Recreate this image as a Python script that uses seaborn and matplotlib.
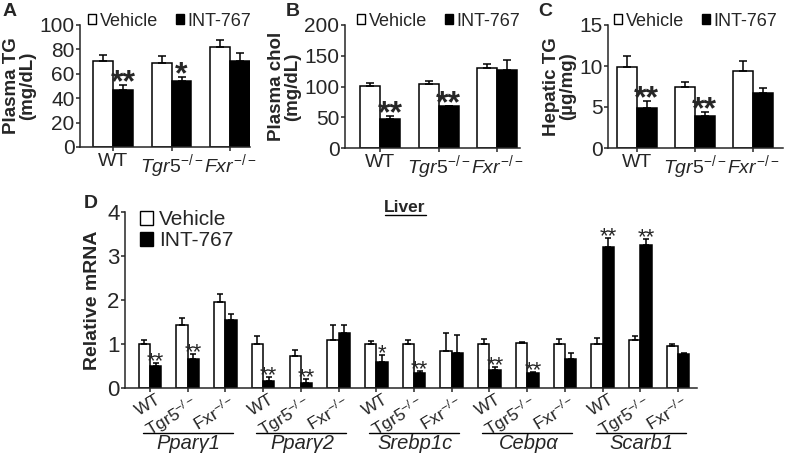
import numpy as np
import pandas as pd
import matplotlib
matplotlib.use('Agg')
import matplotlib.pyplot as plt
import matplotlib.patches as mpatches
from matplotlib.lines import Line2D
from matplotlib.transforms import blended_transform_factory
import seaborn as sns

# ---- values (mean, SEM) ----
genotypes = ['WT', 'Tgr5', 'Fxr']
treatments = ['Vehicle', 'INT-767']

# A: plasma TG (mg/dL)
tg_veh = [70.7, 68.5, 82.0]
tg_veh_sem = [4.6, 6.0, 6.0]
tg_int = [46.6, 54.0, 70.7]
tg_int_sem = [4.1, 3.0, 6.3]
tg_stars = ['**', '*', '']

# B: plasma cholesterol (mg/dL)
chol_veh = [101.6, 103.8, 129.7]
chol_veh_sem = [4.4, 5.2, 7.1]
chol_int = [47.0, 67.6, 127.0]
chol_int_sem = [5.4, 1.0, 16.0]
chol_stars = ['**', '**', '']

# C: hepatic TG (ug/mg)
htg_veh = [9.9, 7.5, 9.36]
htg_veh_sem = [1.3, 0.5, 1.25]
htg_int = [4.9, 3.9, 6.65]
htg_int_sem = [0.8, 0.5, 0.65]
htg_stars = ['**', '**', '']

# D: liver relative mRNA, 5 genes x 3 genotypes
genes = ['Pparγ1', 'Pparγ2', 'Srebp1c', 'Cebpα', 'Scarb1']
mrna_veh = [1.00, 1.44, 1.95, 1.00, 0.73, 1.10, 1.00, 1.00, 0.84,
            1.00, 1.02, 1.00, 1.00, 1.10, 0.95]
mrna_veh_sem = [0.10, 0.14, 0.19, 0.18, 0.14, 0.34, 0.07, 0.10, 0.41,
                0.11, 0.02, 0.11, 0.14, 0.08, 0.05]
mrna_int = [0.49, 0.67, 1.54, 0.15, 0.12, 1.26, 0.59, 0.33, 0.80,
            0.42, 0.34, 0.67, 3.20, 3.24, 0.77]
mrna_int_sem = [0.08, 0.11, 0.15, 0.09, 0.08, 0.18, 0.17, 0.05, 0.40,
                0.06, 0.02, 0.13, 0.21, 0.15, 0.03]
mrna_stars = ['**', '**', '', '**', '**', '', '*', '**', '',
              '**', '**', '', '**', '**', '']

sns.set_style('ticks')
plt.rcParams['font.family'] = ['Liberation Sans', 'DejaVu Sans']
plt.rcParams['mathtext.fontset'] = 'custom'
plt.rcParams['mathtext.rm'] = 'Liberation Sans'
plt.rcParams['mathtext.it'] = 'Liberation Sans:italic'
plt.rcParams['mathtext.bf'] = 'Liberation Sans:bold'
plt.rcParams['axes.linewidth'] = 1.1

palette = {'Vehicle': 'white', 'INT-767': 'black'}


def draw_bars(ax, keys, veh, veh_sem, intv, int_sem, stars, width, capsize,
              star_size, star_weight, star_dy):
    n = len(keys)
    df = pd.DataFrame({
        'group': keys * 2,
        'treatment': ['Vehicle'] * n + ['INT-767'] * n,
        'value': veh + intv,
        'sem': veh_sem + int_sem,
    })
    sns.barplot(data=df, x='group', y='value', hue='treatment', order=keys,
                hue_order=treatments, palette=palette, edgecolor='black',
                linewidth=1.1, width=width, errorbar=None, legend=False,
                saturation=1, ax=ax)
    for cont, t in zip(ax.containers, treatments):
        sub = df[df.treatment == t]
        xs = [p.get_x() + p.get_width() / 2 for p in cont]
        hs = [p.get_height() for p in cont]
        sem = sub['sem'].to_numpy()
        ax.errorbar(xs, hs, yerr=[np.zeros_like(sem), sem], fmt='none',
                    ecolor='black', elinewidth=1.1, capsize=capsize,
                    capthick=1.1, zorder=3)
        if t == 'INT-767':
            for x, h, s, st in zip(xs, hs, sem, stars):
                if st:
                    ax.annotate(st, (x, h + s), xytext=(0, star_dy),
                                textcoords='offset points', ha='center',
                                va='baseline', fontsize=star_size,
                                fontweight=star_weight)
    ax.set_xlabel('')
    sns.despine(ax=ax)
    ax.tick_params(direction='out', length=3, width=1.1, pad=1)


def legend_handles():
    return [mpatches.Patch(facecolor='white', edgecolor='black', lw=1.0, label='Vehicle'),
            mpatches.Patch(facecolor='black', edgecolor='black', lw=1.0, label='INT-767')]


fig = plt.figure(figsize=(7.87, 4.54), dpi=100)
W, H = 787, 454

def px_axes(l, t, r, b):
    return fig.add_axes([l / W, 1 - b / H, (r - l) / W, (b - t) / H])

axA = px_axes(80, 25, 250, 147)
axB = px_axes(345, 25, 520, 148)
axC = px_axes(608, 25, 783, 148)
axD = px_axes(125, 212, 697, 388)

geno_labels = ['WT', r'$\it{Tgr5}^{-/-}$', r'$\it{Fxr}^{-/-}$']

panels = [
    (axA, tg_veh, tg_veh_sem, tg_int, tg_int_sem, tg_stars, (0, 100), np.arange(0, 101, 20),
     'Plasma TG\n(mg/dL)', (-0.564, 2.34), 88),
    (axB, chol_veh, chol_veh_sem, chol_int, chol_int_sem, chol_stars, (0, 200), np.arange(0, 201, 50),
     'Plasma chol\n(mg/dL)', (-0.6, 2.39), 357),
    (axC, htg_veh, htg_veh_sem, htg_int, htg_int_sem, htg_stars, (0, 15), np.arange(0, 16, 5),
     'Hepatic TG\n(µg/mg)', (-0.5, 2.52), 614),
]
for ax, v, vs, iv, ivs, st, ylim, yt, ylab, xlim, legx in panels:
    draw_bars(ax, genotypes, v, vs, iv, ivs, st, width=0.68, capsize=3,
              star_size=23, star_weight='bold', star_dy=-4.5)
    ax.set_ylim(*ylim)
    ax.set_yticks(yt)
    ax.set_xlim(*xlim)
    ax.set_xticks(range(3))
    ax.set_xticklabels(geno_labels, fontsize=14)
    ax.tick_params(axis='y', labelsize=15)
    ax.set_ylabel(ylab, fontsize=13.5, fontweight='bold', linespacing=0.95, labelpad=2)
    fig.legend(handles=legend_handles(), loc='center left',
               bbox_to_anchor=(legx / W, 1 - 21 / H), ncol=2, frameon=False,
               fontsize=13, handlelength=0.45, handleheight=0.45,
               handletextpad=0.2, columnspacing=1.0, borderpad=0,
               borderaxespad=0)

# panel D
keys = [f'{g} {k}' for g in genes for k in genotypes]
draw_bars(axD, keys, mrna_veh, mrna_veh_sem, mrna_int, mrna_int_sem, mrna_stars,
          width=0.6, capsize=2.5, star_size=16, star_weight='normal', star_dy=-3)
axD.set_ylim(0, 4)
axD.set_yticks(range(5))
axD.set_xlim(-0.66, 14.5)
axD.set_xticks(range(len(keys)))
axD.set_xticklabels([''] * len(keys))
axD.tick_params(axis='y', labelsize=16)
axD.set_ylabel('Relative mRNA', fontsize=14, fontweight='bold', labelpad=4)
axD.legend(handles=legend_handles(), loc='upper left', bbox_to_anchor=(0.027, 1.01),
           frameon=False, fontsize=15, handlelength=0.6, handleheight=0.6,
           handletextpad=0.3, labelspacing=0.1, borderpad=0, borderaxespad=0)

# rotated genotype labels, right end a little past each tick
d_labels = ['WT', r'Tgr5$^{-/-}$', r'Fxr$^{-/-}$'] * len(genes)
for i, lab in enumerate(d_labels):
    axD.annotate(lab, (i, 0), xycoords=('data', 'axes fraction'),
                 xytext=(10, -3), textcoords='offset points', ha='right',
                 va='top', rotation=31, fontsize=12.5)

# gene group underlines and names
trans = blended_transform_factory(axD.transData, axD.transAxes)
for i, g in enumerate(genes):
    x0 = i * 3
    axD.add_line(Line2D([x0 - 0.19, x0 + 2.2], [-0.256, -0.256], transform=trans,
                        color='black', lw=1.0, clip_on=False))
    axD.text(x0 + 1.03, -0.262, g, transform=trans, ha='center', va='top',
             fontsize=14.5, fontstyle='italic')

# title "Liver"
fig.text(405 / W, 1 - 207 / H, 'Liver', ha='center', va='center',
         fontsize=12.5, fontweight='bold')
fig.add_artist(Line2D([385 / W, 426 / W], [1 - 215 / H] * 2, color='black', lw=1.0))

# panel letters
for letter, x, y in [('A', 3, 11), ('B', 286, 11), ('C', 538, 11), ('D', 84, 203)]:
    fig.text(x / W, 1 - y / H, letter, ha='left', va='center', fontsize=14,
             fontweight='bold')

fig.savefig('out.png', dpi=100)
